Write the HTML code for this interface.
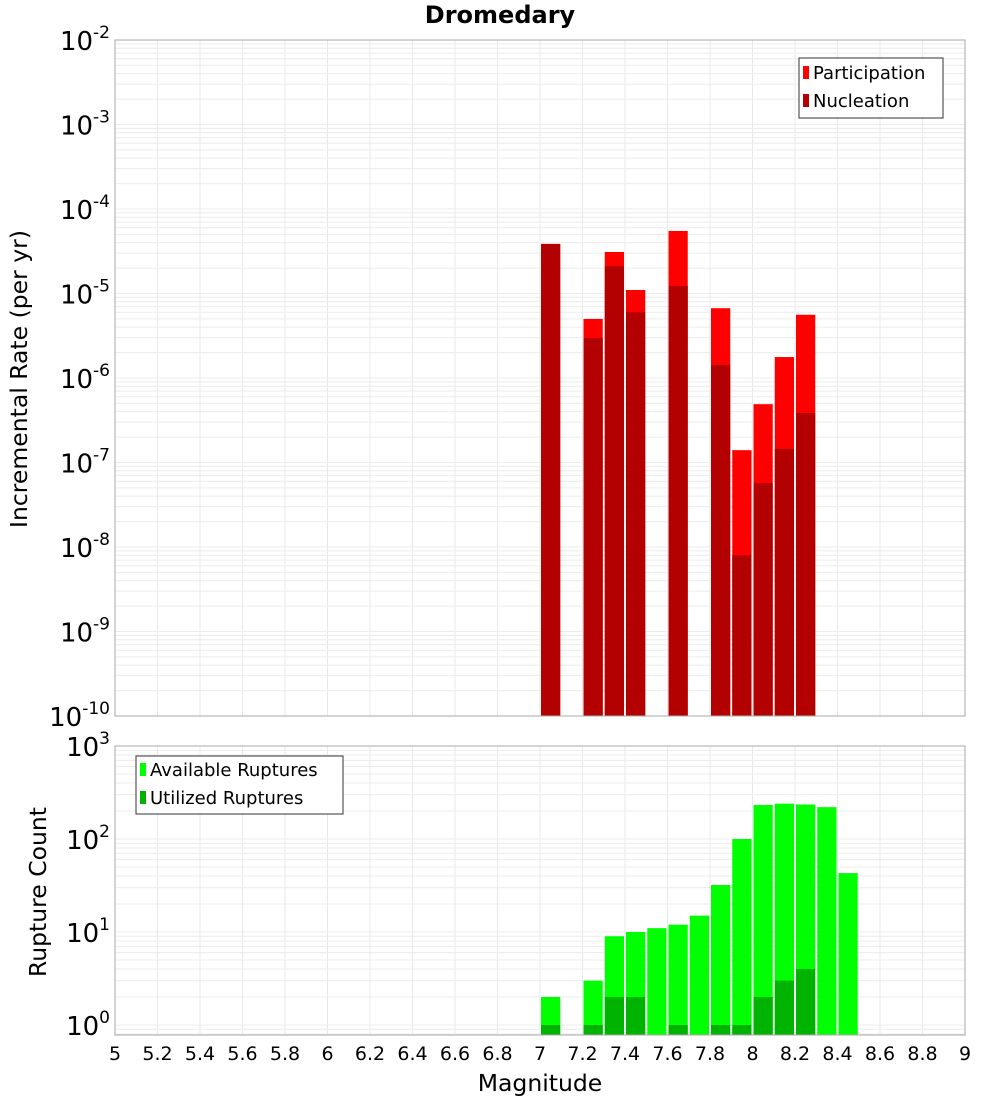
<!DOCTYPE html>
<html><head><meta charset="utf-8"><style>
body{margin:0;background:#fff}
svg{display:block;font-family:"DejaVu Sans","Liberation Sans",sans-serif}
</style></head><body>
<svg id="c" width="1000" height="1100" viewBox="0 0 1000 1100"></svg>
<script>
const bins=[7.05,7.15,7.25,7.35,7.45,7.55,7.65,7.75,7.85,7.95,8.05,8.15,8.25,8.35,8.45];
const participation=[3.86e-5,0,5.0e-6,3.1e-5,1.1e-5,0,5.5e-5,0,6.7e-6,1.4e-7,4.9e-7,1.77e-6,5.6e-6,0,0];
const nucleation=[3.86e-5,0,2.97e-6,2.1e-5,6.0e-6,0,1.23e-5,0,1.43e-6,8e-9,5.7e-8,1.45e-7,3.85e-7,0,0];
const available=[2,0,3,9,10,11,12,15,32,100,232,240,235,220,43];
const utilized=[1,0,1,2,2,0,1,0,1,1,2,3,4,0,0];
const xTicks=["5","5.2","5.4","5.6","5.8","6","6.2","6.4","6.6","6.8","7","7.2","7.4","7.6","7.8","8","8.2","8.4","8.6","8.8","9"];
const topExps=[-10,-9,-8,-7,-6,-5,-4,-3,-2];
const botExps=[0,1,2,3];

const NS="http://www.w3.org/2000/svg";
const svg=document.getElementById('c');
function el(t,a,p){const e=document.createElementNS(NS,t);for(const k in a)e.setAttribute(k,a[k]);(p||svg).appendChild(e);return e;}
const X0=115,X1=965;
const x=v=>X0+(v-5)/4*(X1-X0);
const T0=40,T1=716;
const yT=v=>T1-(Math.log10(v)+10)/8*(T1-T0);
const B0=746,B1=1035,DEC=93;
const yB=v=>1025-Math.log10(v)*DEC;
const bw=0.1*(X1-X0)/4;

function grid(g,top,bot,yf,lo,hi){
  for(const t of xTicks){const xx=x(+t);el('line',{x1:xx,x2:xx,y1:top,y2:bot,stroke:'#e8e8e8'},g);}
  for(let e=lo;e<=hi;e++)for(let m=1;m<10;m++){const v=m*Math.pow(10,e);const yy=yf(v);if(yy<top||yy>bot)continue;el('line',{x1:X0,x2:X1,y1:yy,y2:yy,stroke:'#ececec'},g);}
}
const ti=el('text',{x:500,y:23,'text-anchor':'middle','font-size':24,'font-weight':'bold'});ti.textContent='Dromedary';


const gt=el('g',{});
grid(gt,T0,T1,yT,-10,-3);
bins.forEach((b,i)=>{
  if(participation[i]>0){const r=el('rect',{x:x(b-0.05)+1,y:yT(participation[i]),width:bw-2,height:T1-yT(participation[i]),fill:'#ff0000'},gt);
    }
  if(nucleation[i]>0){const r=el('rect',{x:x(b-0.05)+1,y:yT(nucleation[i]),width:bw-2,height:T1-yT(nucleation[i]),fill:'#b30000'},gt);
    }
});
el('rect',{x:X0,y:T0,width:X1-X0,height:T1-T0,fill:'none',stroke:'#aaa'},gt);
topExps.forEach(e=>{const t=el('text',{x:110,y:yT(Math.pow(10,e))+10,'text-anchor':'end','font-size':26},gt);
  t.innerHTML='10<tspan dy="-12" font-size="17">'+e+'</tspan>';});
const yl=el('text',{transform:'translate(27,379) rotate(-90)','text-anchor':'middle','font-size':23.5});yl.textContent='Incremental Rate (per yr)';

const lg=el('g',{});
el('rect',{x:799,y:58,width:144,height:60,fill:'#fff',stroke:'#333'},lg);
el('rect',{x:803,y:66,width:6,height:13,fill:'#ff0000'},lg);
el('rect',{x:803,y:94,width:6,height:13,fill:'#b30000'},lg);
let t=el('text',{x:813,y:79,'font-size':18},lg);t.textContent='Participation';
t=el('text',{x:813,y:107,'font-size':18},lg);t.textContent='Nucleation';

const gb=el('g',{});
grid(gb,B0,B1,yB,-1,2);
bins.forEach((b,i)=>{
  if(available[i]>0){const r=el('rect',{x:x(b-0.05)+1,y:yB(available[i]),width:bw-2,height:B1-yB(available[i]),fill:'#00ff00'},gb);
    }
  if(utilized[i]>0){const r=el('rect',{x:x(b-0.05)+1,y:yB(utilized[i]),width:bw-2,height:B1-yB(utilized[i]),fill:'#00b300'},gb);
    }
});
el('rect',{x:X0,y:B0,width:X1-X0,height:B1-B0,fill:'none',stroke:'#aaa'},gb);
botExps.forEach(e=>{const t=el('text',{x:110,y:yB(Math.pow(10,e))+10,'text-anchor':'end','font-size':26},gb);
  t.innerHTML='10<tspan dy="-12" font-size="17">'+e+'</tspan>';});
const yl2=el('text',{transform:'translate(46,892) rotate(-90)','text-anchor':'middle','font-size':23.5});yl2.textContent='Rupture Count';

const lg2=el('g',{});
el('rect',{x:136,y:756,width:207,height:58,fill:'#fff',stroke:'#333'},lg2);
el('rect',{x:140,y:763,width:6,height:13,fill:'#00ff00'},lg2);
el('rect',{x:140,y:791,width:6,height:13,fill:'#00b300'},lg2);
t=el('text',{x:150,y:776,'font-size':18},lg2);t.textContent='Available Ruptures';
t=el('text',{x:150,y:804,'font-size':18},lg2);t.textContent='Utilized Ruptures';

xTicks.forEach(s=>{const t=el('text',{x:x(+s),y:1060,'text-anchor':'middle','font-size':19});t.textContent=s;
  });
const xl=el('text',{x:540,y:1091,'text-anchor':'middle','font-size':23.5});xl.textContent='Magnitude';

</script>
</body></html>
